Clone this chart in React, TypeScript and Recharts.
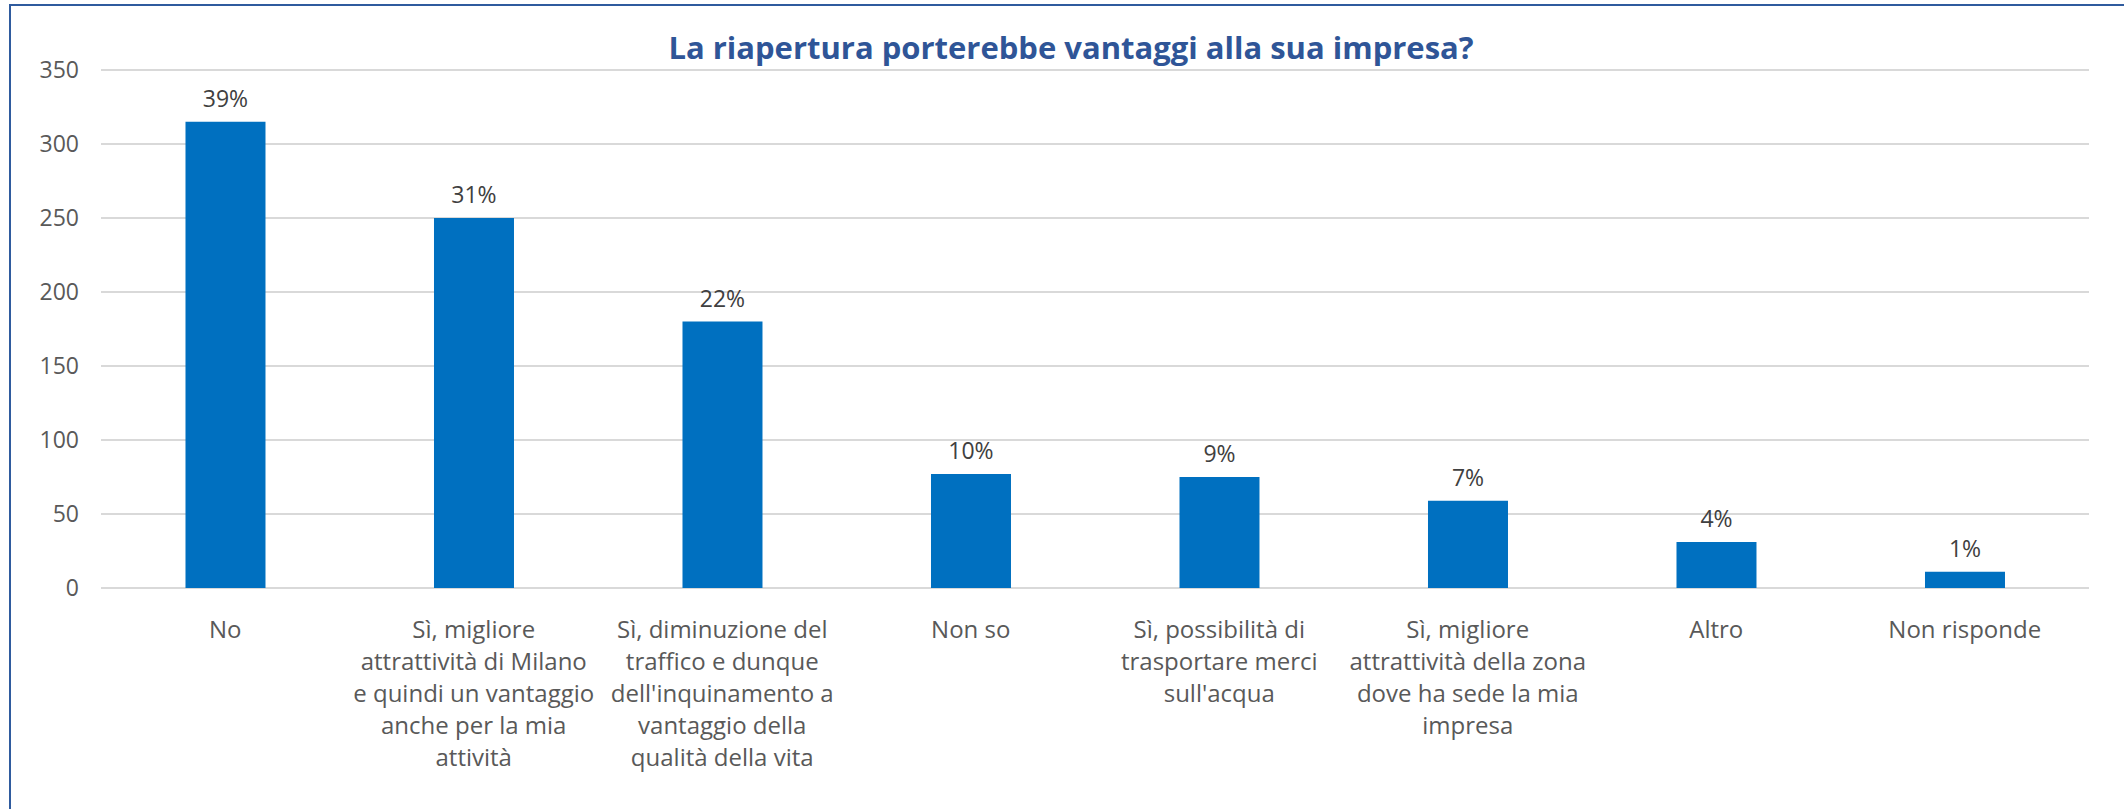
import { Bar, BarChart, CartesianGrid, LabelList, XAxis, YAxis } from "recharts";

// categorie (a capo come nel grafico originale)
const categories = [
  "No",
  "Sì, migliore\nattrattività di Milano\ne quindi un vantaggio\nanche per la mia\nattività",
  "Sì, diminuzione del\ntraffico e dunque\ndell'inquinamento a\nvantaggio della\nqualità della vita",
  "Non so",
  "Sì, possibilità di\ntrasportare merci\nsull'acqua",
  "Sì, migliore\nattrattività della zona\ndove ha sede la mia\nimpresa",
  "Altro",
  "Non risponde",
];
const risposte = [315, 250, 180, 77, 75, 59, 31, 11];
const percentuali = ["39%", "31%", "22%", "10%", "9%", "7%", "4%", "1%"];
const yTicks = [0, 50, 100, 150, 200, 250, 300, 350];

const data = categories.map((name, i) => ({
  name,
  value: risposte[i],
  pct: percentuali[i],
}));

const FONT = "'Open Sans', sans-serif";

function CategoryTick(props: any) {
  const { x, y, payload } = props;
  const lines = String(payload.value).split("\n");
  return (
    <text x={x} y={y} textAnchor="middle" fill="#595959" fontSize={24} fontFamily={FONT}>
      {lines.map((line, i) => (
        <tspan key={i} x={x} dy={i === 0 ? 42 : 32}>
          {line}
        </tspan>
      ))}
    </text>
  );
}

export default function App() {
  return (
    <div
      style={{
        position: "absolute",
        left: 0,
        top: 0,
        width: 2124,
        height: 809,
        background: "#fff",
        overflow: "hidden",
      }}
    >
      {/* cornice: si vedono solo il lato sinistro e quello superiore */}
      <div
        style={{
          position: "absolute",
          left: 9,
          top: 4,
          width: 2300,
          height: 1000,
          border: "2px solid #2F5B9E",
        }}
      />
      <div
        style={{
          position: "absolute",
          left: 0,
          width: 2142,
          top: 26,
          textAlign: "center",
          fontFamily: FONT,
          fontWeight: 700,
          fontSize: 31,
          color: "#2F5597",
        }}
      >
        La riapertura porterebbe vantaggi alla sua impresa?
      </div>
      <div style={{ position: "absolute", left: 0, top: 0 }}>
        <BarChart
          width={2124}
          height={809}
          data={data}
          margin={{ top: 70, right: 35, left: 0, bottom: 0 }}
          barCategoryGap="34%"
        >
          <CartesianGrid vertical={false} stroke="#D9D9D9" strokeWidth={2} />
          <XAxis
            dataKey="name"
            axisLine={false}
            tickLine={false}
            height={221}
            interval={0}
            tick={<CategoryTick />}
          />
          <YAxis
            width={101}
            domain={[0, 350]}
            ticks={yTicks}
            axisLine={false}
            tickLine={false}
            tickSize={0}
            tickMargin={22}
            tick={{ fill: "#595959", fontSize: 23, fontFamily: FONT }}
          />
          <Bar dataKey="value" fill="#0070C0" isAnimationActive={false}>
            <LabelList
              dataKey="pct"
              position="top"
              offset={15}
              fill="#404040"
              fontSize={23}
              fontFamily={FONT}
            />
          </Bar>
        </BarChart>
      </div>
    </div>
  );
}
